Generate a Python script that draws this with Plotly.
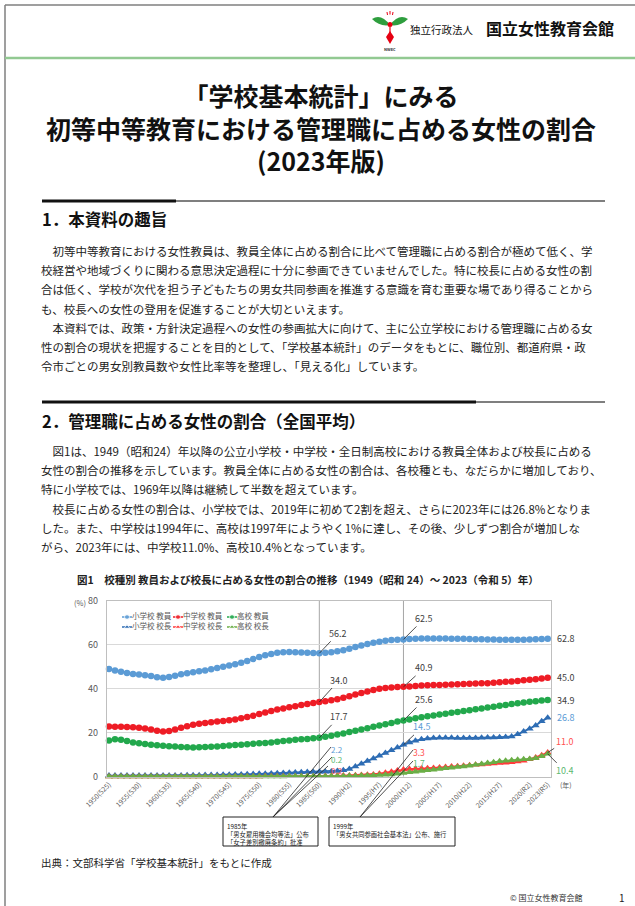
import plotly.graph_objects as go

W, H = 635, 906
FONT = "Noto Sans CJK JP"

# ---------------- data ----------------
years = list(range(1950, 2024))

elem_teacher = [49.0, 48.4, 47.8, 47.2, 46.8, 46.5, 46.2, 45.8, 45.3, 45.1,
                45.4, 46.0, 46.6, 47.1, 47.6, 48.0, 48.3, 48.9, 49.5, 50.1,
                50.6, 51.2, 51.9, 52.7, 53.6, 54.5, 55.3, 55.9, 56.4, 56.7,
                56.8, 56.7, 56.6, 56.4, 56.3, 56.2, 56.4, 56.7, 57.1, 57.6,
                58.3, 59.0, 59.7, 60.4, 61.0, 61.5, 61.9, 62.2, 62.4, 62.5,
                62.7, 62.8, 62.9, 62.9, 62.9, 62.9, 62.9, 62.8, 62.8, 62.8,
                62.7, 62.6, 62.6, 62.5, 62.5, 62.4, 62.4, 62.4, 62.4, 62.4,
                62.5, 62.6, 62.7, 62.8]
mid_teacher = [22.9, 22.8, 22.7, 22.6, 22.5, 22.3, 22.0, 21.5, 20.9, 20.6,
               20.8, 21.5, 22.3, 23.0, 23.6, 24.1, 24.5, 24.8, 25.1, 25.4,
               25.7, 26.1, 26.6, 27.2, 27.8, 28.5, 29.2, 29.9, 30.6, 31.1,
               31.6, 32.1, 32.6, 33.1, 33.6, 34.0, 34.4, 34.8, 35.3, 35.9,
               36.6, 37.4, 38.1, 38.8, 39.5, 40.0, 40.4, 40.6, 40.8, 40.9,
               41.1, 41.3, 41.5, 41.6, 41.7, 41.8, 41.9, 42.0, 42.1, 42.2,
               42.3, 42.4, 42.5, 42.6, 42.8, 43.0, 43.2, 43.4, 43.6, 43.9,
               44.1, 44.4, 44.7, 45.0]
high_teacher = [16.5, 17.0, 16.8, 16.2, 15.6, 15.2, 14.9, 14.6, 14.3, 14.1,
                13.9, 13.7, 13.5, 13.4, 13.3, 13.4, 13.5, 13.6, 13.8, 14.0,
                14.2, 14.4, 14.6, 14.8, 15.0, 15.2, 15.4, 15.6, 15.9, 16.2,
                16.5, 16.8, 17.0, 17.2, 17.5, 17.7, 18.2, 18.7, 19.2, 19.7,
                20.3, 20.9, 21.5, 22.1, 22.7, 23.3, 23.9, 24.5, 25.1, 25.6,
                26.1, 26.6, 27.1, 27.5, 27.9, 28.3, 28.7, 29.1, 29.5, 29.9,
                30.3, 30.7, 31.1, 31.5, 31.9, 32.3, 32.7, 33.1, 33.5, 33.8,
                34.1, 34.4, 34.7, 34.9]
elem_principal = [0.5, 0.5, 0.5, 0.5, 0.5, 0.5, 0.5, 0.5, 0.5, 0.5,
                  0.6, 0.6, 0.6, 0.7, 0.7, 0.7, 0.8, 0.8, 0.8, 0.9,
                  0.9, 1.0, 1.0, 1.1, 1.2, 1.3, 1.4, 1.5, 1.6, 1.7,
                  1.8, 1.9, 2.0, 2.1, 2.1, 2.2, 2.3, 2.4, 2.6, 2.9,
                  3.5, 4.7, 5.9, 7.1, 8.3, 9.5, 10.8, 12.0, 13.3, 14.5,
                  15.6, 16.4, 17.0, 17.4, 17.6, 17.7, 17.7, 17.7, 17.6, 17.6,
                  17.6, 17.6, 17.7, 17.8, 17.9, 18.0, 18.1, 18.3, 19.3, 20.6,
                  21.8, 23.3, 25.2, 26.8]
mid_principal = [0.1, 0.1, 0.1, 0.1, 0.1, 0.1, 0.1, 0.1, 0.1, 0.1,
                 0.1, 0.1, 0.1, 0.1, 0.1, 0.1, 0.1, 0.1, 0.1, 0.1,
                 0.1, 0.1, 0.1, 0.1, 0.1, 0.1, 0.2, 0.2, 0.2, 0.2,
                 0.2, 0.2, 0.2, 0.2, 0.2, 0.2, 0.3, 0.3, 0.4, 0.5,
                 0.6, 0.7, 0.8, 0.9, 1.0, 1.4, 1.8, 2.3, 2.8, 3.3,
                 3.5, 3.6, 3.7, 3.9, 4.0, 4.2, 4.4, 4.6, 4.8, 5.0,
                 5.2, 5.4, 5.6, 5.8, 6.0, 6.2, 6.4, 6.6, 6.9, 7.3,
                 7.9, 8.7, 9.8, 11.0]
high_principal = [0.1, 0.1, 0.1, 0.1, 0.1, 0.1, 0.1, 0.1, 0.1, 0.1,
                  0.1, 0.1, 0.1, 0.1, 0.1, 0.1, 0.1, 0.1, 0.1, 0.1,
                  0.1, 0.1, 0.1, 0.1, 0.1, 0.1, 0.1, 0.1, 0.1, 0.1,
                  0.2, 0.2, 0.2, 0.2, 0.2, 0.2, 0.2, 0.3, 0.3, 0.3,
                  0.4, 0.4, 0.5, 0.6, 0.7, 0.8, 0.9, 1.0, 1.3, 1.7,
                  2.0, 2.3, 2.6, 2.9, 3.2, 3.5, 3.8, 4.1, 4.4, 4.7,
                  5.0, 5.4, 5.8, 6.2, 6.6, 7.0, 7.3, 7.5, 7.7, 7.9,
                  8.1, 8.4, 9.3, 10.4]

series_names = ["小学校 教員", "中学校 教員", "高校 教員", "小学校 校長", "中学校 校長", "高校 校長"]
series_values = [elem_teacher, mid_teacher, high_teacher, elem_principal, mid_principal, high_principal]
series_colors = ["#5B9BD5", "#EE1C25", "#22A84C", "#2E6DB4", "#FF3B3B", "#6AAE46"]
series_symbols = ["circle", "circle", "circle", "triangle-up", "triangle-up", "triangle-up"]
label_colors = ["#404040", "#404040", "#404040", "#5B9BD5", "#FF5050", "#5BB870"]

tick_years = [1950, 1955, 1960, 1965, 1970, 1975, 1980, 1985, 1990, 1995, 2000, 2005, 2010, 2015, 2020, 2023]
tick_labels = ["1950(S25)", "1955(S30)", "1960(S35)", "1965(S40)", "1970(S45)", "1975(S50)",
               "1980(S55)", "1985(S60)", "1990(H2)", "1995(H7)", "2000(H12)", "2005(H17)",
               "2010(H22)", "2015(H27)", "2020(R2)", "2023(R5)"]
event_years = [1985, 1999]

# ---------------- figure ----------------
fig = go.Figure()

for name, vals, col, sym in zip(series_names, series_values, series_colors, series_symbols):
    fig.add_trace(go.Scatter(
        x=years, y=vals, name=name, mode="lines+markers",
        line=dict(color=col, width=1.8),
        marker=dict(symbol=sym, size=6.5 if sym == "circle" else 7, color=col),
        showlegend=False, cliponaxis=False))

# custom legend (pixel overlay axes)
leg_cols = [122, 173, 227]
leg_rows = [617, 627]
for i, (name, col, sym) in enumerate(zip(series_names, series_colors, series_symbols)):
    cx = leg_cols[i % 3]
    cy = leg_rows[i // 3]
    fig.add_trace(go.Scatter(
        x=[cx, cx + 5, cx + 10], y=[cy, cy, cy], xaxis="x2", yaxis="y2",
        mode="lines+markers+text", line=dict(color=col, width=1.5),
        marker=dict(symbol=sym, size=[0, 5, 0], color=col),
        text=["", "", name], textposition="middle right",
        textfont=dict(size=7.5, color="#595959", family=FONT),
        showlegend=False, hoverinfo="skip", cliponaxis=False))

ann = []
shapes = []

def T(x, y, s, size, color="#222222", xanchor="left", yanchor="middle", align="left"):
    ann.append(dict(xref="x2", yref="y2", x=x, y=y, text=s, showarrow=False,
                    xanchor=xanchor, yanchor=yanchor, align=align,
                    font=dict(size=size, color=color, family=FONT)))

def L(x0, y0, x1, y1, color, width):
    shapes.append(dict(type="line", xref="x2", yref="y2", x0=x0, y0=y0, x1=x1, y1=y1,
                       line=dict(color=color, width=width)))

# page frame
L(5, 5, 635, 5, "#7F7F7F", 1.5)
L(5, 5, 5, 906, "#7F7F7F", 1.5)
L(5, 58, 635, 58, "#92C992", 2.5)

# logo
shapes.append(dict(type="path", xref="x2", yref="y2",
                   path="M 390 25 Q 381 13 372 19 Q 380 27 390 25 Z",
                   fillcolor="#2E9E3E", line=dict(width=0)))
shapes.append(dict(type="path", xref="x2", yref="y2",
                   path="M 390 25 Q 399 13 408 19 Q 400 27 390 25 Z",
                   fillcolor="#2E9E3E", line=dict(width=0)))
shapes.append(dict(type="circle", xref="x2", yref="y2", x0=387.5, y0=22, x1=392.5, y1=27,
                   fillcolor="#E60012", line=dict(width=0)))
L(390, 27, 390, 33, "#E60012", 1.2)
shapes.append(dict(type="path", xref="x2", yref="y2",
                   path="M 390 31 L 394 37 L 390 44 L 386 37 Z",
                   fillcolor="#E60012", line=dict(width=0)))
L(387, 12, 387.5, 15, "#E60012", 1)
L(390, 11, 390, 14.5, "#E60012", 1)
L(393, 12, 392.5, 15, "#E60012", 1)
T(390, 48.5, "<b>NWEC</b>", 4, "#333333", xanchor="center")

T(408, 29, "独立行政法人", 10.5, "#111111")
T(484, 28, "<b>国立女性教育会館</b>", 16, "#111111")

# title (one block, three lines)
T(321, 127, "<b>「学校基本統計」にみる<br>初等中等教育における管理職に占める女性の割合<br>(2023年版)</b>",
  25, "#111111", xanchor="center", align="center")

# section 1
L(42, 201, 176, 201, "#111111", 3)
L(176, 201, 605, 201, "#7F7F7F", 2)
T(40, 219, "<b>1．本資料の趣旨</b>", 16.5, "#111111")
sec1 = ["　初等中等教育における女性教員は、教員全体に占める割合に比べて管理職に占める割合が極めて低く、学",
        "校経営や地域づくりに関わる意思決定過程に十分に参画できていませんでした。特に校長に占める女性の割",
        "合は低く、学校が次代を担う子どもたちの男女共同参画を推進する意識を育む重要な場であり得ることから",
        "も、校長への女性の登用を促進することが大切といえます。",
        "　本資料では、政策・方針決定過程への女性の参画拡大に向けて、主に公立学校における管理職に占める女",
        "性の割合の現状を把握することを目的として、「学校基本統計」のデータをもとに、職位別、都道府県・政",
        "令市ごとの男女別教員数や女性比率等を整理し、「見える化」しています。"]
for i, s in enumerate(sec1):
    T(39, 251 + 19.2 * i, s, 11.5)

# section 2
L(42, 402, 476, 402, "#111111", 3)
L(476, 402, 605, 402, "#7F7F7F", 2)
T(40, 421, "<b>2．管理職に占める女性の割合（全国平均）</b>", 16.5, "#111111")
sec2 = ["　図1は、1949（昭和24）年以降の公立小学校・中学校・全日制高校における教員全体および校長に占める",
        "女性の割合の推移を示しています。教員全体に占める女性の割合は、各校種とも、なだらかに増加しており、",
        "特に小学校では、1969年以降は継続して半数を超えています。",
        "　校長に占める女性の割合は、小学校では、2019年に初めて2割を超え、さらに2023年には26.8%となりま",
        "した。また、中学校は1994年に、高校は1997年にようやく1%に達し、その後、少しずつ割合が増加しな",
        "がら、2023年には、中学校11.0%、高校10.4%となっています。"]
for i, s in enumerate(sec2):
    T(39, 451 + 19.2 * i, s, 11.5)

# figure title
T(75, 579, "<b>図1　校種別 教員および校長に占める女性の割合の推移（1949（昭和 24）～ 2023（令和 5）年）</b>", 10.5, "#222222")
T(72, 602, "(%)", 7.5, "#595959")
T(558, 785, "(年)", 7, "#595959")

# callout boxes
shapes.append(dict(type="rect", xref="x2", yref="y2", x0=223, y0=817, x1=318, y1=846,
                   line=dict(color="#222222", width=1), fillcolor="white"))
shapes.append(dict(type="rect", xref="x2", yref="y2", x0=329, y0=817, x1=455, y1=846,
                   line=dict(color="#222222", width=1), fillcolor="white"))
T(225, 819.5, "1985年<br>「男女雇用機会均等法」公布<br>「女子差別撤廃条約」批准", 6.3, "#222222",
  yanchor="top")
T(331, 819.5, "1999年<br>「男女共同参画社会基本法」公布、施行", 6.3, "#222222", yanchor="top")
# leader lines to callouts
L(273, 817, 331, 747, "#222222", 0.8)
L(273, 817, 332, 757, "#222222", 0.8)
L(273, 817, 328, 766, "#222222", 0.8)
L(360, 817, 413, 750, "#222222", 0.8)
L(360, 817, 413, 761, "#222222", 0.8)

# source / footer
T(39, 862, "出典：文部科学省「学校基本統計」をもとに作成", 10.5, "#222222")
T(508, 897, "© 国立女性教育会館", 8, "#333333")
T(622, 897, "1", 10, "#222222", xanchor="center")

# event lines on chart
for ey in event_years:
    shapes.append(dict(type="line", xref="x", yref="y", x0=ey, x1=ey, y0=0, y1=80,
                       line=dict(color="#A6A6A6", width=1), layer="below"))

# data labels at event years
def val(series, yr):
    return series[years.index(yr)]

def arrow_label(series_idx, yr, ax, ay, color):
    v = val(series_values[series_idx], yr)
    ann.append(dict(xref="x", yref="y", x=yr, y=v, text=f"{v:.1f}", showarrow=True,
                    arrowhead=0, arrowwidth=0.8, arrowcolor="#222222", ax=ax, ay=ay,
                    standoff=0, font=dict(size=9, color=color, family=FONT)))

arrow_label(0, 1985, 19, -20, "#404040")
arrow_label(1, 1985, 20, -22, "#404040")
arrow_label(2, 1985, 20, -21, "#404040")
arrow_label(0, 1999, 21, -21, "#404040")
arrow_label(1, 1999, 21, -19, "#404040")
arrow_label(2, 1999, 21, -21, "#404040")
arrow_label(3, 1999, 19, -18, label_colors[3])

def stacked_labels(items, yr, px, py_top, size):
    parts = []
    for idx in items:
        v = val(series_values[idx], yr)
        parts.append(f"<span style='color:{label_colors[idx]}'>{v:.1f}</span>")
    T(px, py_top, "<br>".join(parts), size, "#404040", yanchor="top")

stacked_labels([3, 5, 4], 1985, 329, 741.5, 8)
stacked_labels([4, 5], 1999, 411, 743.5, 8.5)

# end labels
for i in range(4):
    v = series_values[i][-1]
    ann.append(dict(xref="x", yref="y", x=years[-1], y=v, text=f"{v:.1f}", showarrow=False,
                    xanchor="left", xshift=7, font=dict(size=9, color=label_colors[i], family=FONT)))
for i, ay in [(4, -11), (5, 17)]:
    v = series_values[i][-1]
    ann.append(dict(xref="x", yref="y", x=years[-1], y=v, text=f"{v:.1f}", showarrow=True,
                    arrowhead=0, arrowwidth=0.8, arrowcolor="#222222", ax=17, ay=ay, standoff=0,
                    font=dict(size=9, color=label_colors[i], family=FONT)))

x0p, x1p = 106.7, 550.7
ytop, ybot = 601.0, 776.7

fig.update_layout(
    width=W, height=H, margin=dict(l=0, r=0, t=0, b=0, pad=0),
    paper_bgcolor="white", plot_bgcolor="rgba(0,0,0,0)",
    font=dict(family=FONT, color="#222222"),
    showlegend=False, hovermode=False,
    xaxis=dict(domain=[x0p / W, x1p / W], range=[1949.62, 2023.5], automargin=False,
               tickmode="array", tickvals=tick_years, ticktext=tick_labels, tickangle=-45,
               tickfont=dict(size=7, color="#595959"), showgrid=False, zeroline=False,
               showline=True, linecolor="#BFBFBF", linewidth=1, mirror=True, ticks="",
               anchor="y"),
    yaxis=dict(domain=[1 - ybot / H, 1 - ytop / H], range=[0, 80], dtick=20, automargin=False,
               tickfont=dict(size=9, color="#595959"), showgrid=True, gridcolor="#D9D9D9",
               zeroline=False, showline=True, linecolor="#BFBFBF", linewidth=1, mirror=True,
               ticks="", ticklabelstandoff=6, anchor="x"),
    xaxis2=dict(domain=[0, 1], range=[0, W], visible=False, anchor="y2", fixedrange=True,
                automargin=False),
    yaxis2=dict(domain=[0, 1], range=[H, 0], visible=False, anchor="x2", fixedrange=True,
                automargin=False),
    annotations=ann, shapes=shapes,
)

fig.write_html("out.html", config={"displayModeBar": False},
               post_script="document.body.style.margin='0px';document.body.style.overflow='hidden';")
